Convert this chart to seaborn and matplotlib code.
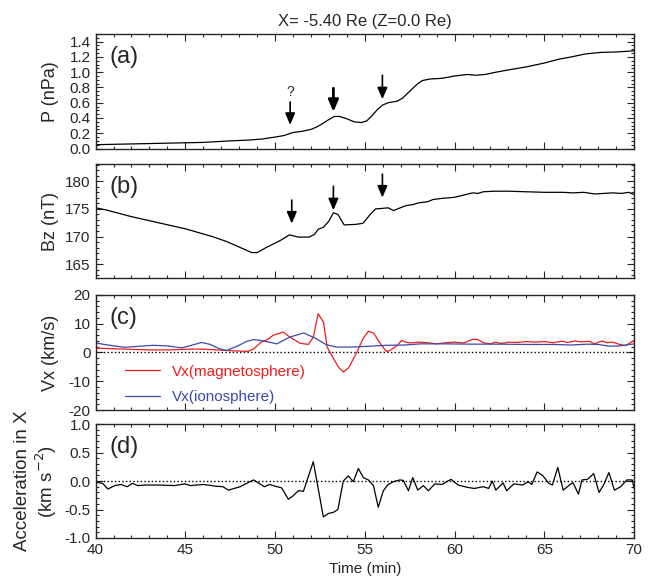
import matplotlib
matplotlib.use("Agg")
import matplotlib.pyplot as plt
from matplotlib.ticker import MultipleLocator, FormatStrFormatter
import seaborn as sns

# ---- data ----
# (a) pressure
p_time = [40.0, 42.0, 44.0, 46.0, 47.5, 48.5, 49.3, 50.0, 50.5, 51.0, 51.5, 52.0, 52.3, 52.6,
          53.0, 53.3, 53.6, 54.0, 54.4, 54.8, 55.1, 55.4, 55.7, 56.0, 56.3, 56.8, 57.1, 57.5,
          57.9, 58.2, 58.6, 59.3, 60.0, 60.7, 61.2, 61.7, 62.3, 63.0, 64.0, 65.0, 65.8, 66.5,
          67.3, 68.2, 69.0, 70.0]
p_val = [0.05, 0.06, 0.07, 0.08, 0.10, 0.11, 0.125, 0.15, 0.17, 0.21, 0.225, 0.25, 0.28, 0.32,
         0.38, 0.42, 0.42, 0.39, 0.35, 0.34, 0.36, 0.43, 0.51, 0.57, 0.60, 0.62, 0.66, 0.75,
         0.84, 0.89, 0.91, 0.92, 0.95, 0.97, 0.96, 0.97, 1.00, 1.03, 1.07, 1.12, 1.17, 1.20,
         1.24, 1.26, 1.265, 1.28]

# (b) Bz
bz_time = [40.0, 40.6, 42.0, 43.5, 45.0, 46.5, 47.3, 48.0, 48.7, 49.0, 49.5, 50.3, 50.8, 51.3,
           51.9, 52.2, 52.4, 52.7, 53.0, 53.25, 53.5, 53.85, 54.5, 54.9, 55.3, 55.6, 56.0, 56.3,
           56.6, 56.9, 57.3, 57.7, 58.0, 58.5, 58.8, 59.3, 60.0, 60.5, 61.0, 61.3, 61.6, 62.2,
           63.0, 64.0, 65.0, 66.0, 66.6, 67.2, 67.8, 68.3, 68.8, 69.3, 69.7, 70.0]
bz_val = [175.2, 174.8, 173.6, 172.5, 171.4, 170.0, 169.1, 168.1, 167.1, 167.1, 168.0, 169.3,
          170.3, 169.9, 169.9, 170.4, 171.3, 171.7, 172.8, 174.3, 174.0, 172.1, 172.2, 172.4,
          174.0, 175.0, 175.1, 175.2, 174.7, 175.1, 175.6, 175.8, 176.1, 176.3, 176.7, 176.9,
          177.1, 177.5, 177.9, 177.8, 178.1, 178.2, 178.2, 178.1, 178.0, 178.0, 177.9, 178.0,
          177.7, 177.8, 177.9, 177.8, 178.0, 177.6]

# (c) Vx in the magnetosphere
vm_time = [40.0, 41.0, 42.0, 43.0, 44.0, 45.0, 45.7, 46.5, 47.3, 48.0, 48.5, 48.8, 49.2, 49.6,
           49.9, 50.2, 50.46, 50.83, 51.4, 51.86, 52.13, 52.4, 52.7, 52.9, 53.16, 53.53, 53.8,
           54.1, 54.55, 54.9, 55.2, 55.5, 55.85, 56.2, 56.4, 56.8, 57.05, 57.3, 57.5, 58.0,
           58.5, 59.0, 59.5, 60.0, 60.5, 61.0, 61.3, 61.6, 62.0, 62.3, 62.6, 63.0, 63.5, 64.0,
           64.5, 65.0, 65.5, 66.0, 66.3, 66.7, 67.0, 67.5, 67.8, 68.2, 68.5, 68.8, 69.2, 69.5,
           69.8, 70.0]
vm_val = [1.5, 1.3, 1.1, 0.9, 0.9, 1.1, 1.2, 1.0, 0.7, 0.5, 0.4, 1.2, 3.5, 4.6,
          6.0, 6.6, 7.1, 5.3, 3.2, 2.8, 5.3, 13.5, 10.5, 1.9, -1.0, -5.1, -6.8,
          -5.3, 0.0, 4.8, 7.4, 6.7, 3.2, 0.35, 0.7, 2.4, 4.2, 3.6, 3.3, 3.6,
          3.4, 3.0, 3.4, 3.6, 3.3, 4.6, 4.5, 3.4, 3.0, 3.6, 3.1, 3.6, 3.5, 3.8,
          3.6, 3.8, 3.4, 3.9, 3.5, 4.0, 3.7, 3.9, 3.0, 4.0, 3.4, 3.6, 2.8, 2.4,
          3.4, 4.2]

# (c) Vx in the ionosphere
vi_time = [40.0, 40.8, 41.6, 42.3, 43.2, 44.0, 44.8, 45.4, 45.9, 46.4, 46.9, 47.3, 47.9, 48.4,
           48.8, 49.3, 50.1, 50.8, 51.6, 52.3, 52.85, 53.4, 54.35, 55.3, 56.2, 57.2, 58.1,
           59.5, 61.0, 62.5, 64.0, 65.5, 66.5, 67.4, 68.0, 68.6, 69.2, 70.0]
vi_val = [3.3, 2.5, 1.8, 2.1, 2.5, 2.3, 1.6, 2.6, 3.5, 2.8, 1.3, 0.7, 2.2, 3.8,
          4.5, 4.1, 3.0, 5.3, 6.8, 4.8, 2.7, 1.9, 1.9, 2.2, 2.5, 2.6, 3.0,
          3.0, 2.9, 2.9, 2.8, 2.8, 2.6, 2.9, 2.8, 2.2, 2.3, 3.0]

# (d) acceleration in X
ax_time = [40.0, 40.39, 40.69, 41.07, 41.42, 41.76, 42.06, 42.34, 42.8, 43.5, 44.4, 44.97,
           45.3, 46.0, 46.7, 47.1, 47.4, 48.05, 48.8, 49.26, 49.4, 49.7, 50.0, 50.37, 50.74,
           51.0, 51.3, 51.58, 52.13, 52.69, 52.97, 53.25, 53.5, 53.8, 54.08, 54.36, 54.64,
           54.92, 55.2, 55.48, 55.75, 56.03, 56.3, 56.6, 56.96, 57.15, 57.43, 57.67, 57.95,
           58.26, 58.54, 58.9, 59.3, 59.8, 60.2, 60.7, 61.1, 61.6, 61.9, 62.1, 62.3, 62.7,
           62.9, 63.3, 63.8, 64.1, 64.3, 64.6, 64.9, 65.25, 65.45, 65.75, 66.05, 66.4, 66.6,
           66.9, 67.1, 67.4, 67.75, 68.05, 68.3, 68.6, 68.9, 69.25, 69.6, 69.9, 70.0]
ax_val = [-0.02, -0.04, -0.14, -0.08, -0.06, -0.10, -0.04, -0.08, -0.07, -0.07, -0.08, -0.05,
          -0.08, -0.06, -0.09, -0.10, -0.16, -0.10, 0.02, -0.07, -0.10, -0.06, -0.09, -0.12,
          -0.32, -0.26, -0.17, -0.18, 0.34, -0.63, -0.57, -0.55, -0.50, 0.00, 0.09, -0.01,
          0.22, 0.06, 0.02, -0.08, -0.46, -0.17, -0.06, -0.01, 0.02, 0.01, -0.17, 0.06, -0.16,
          -0.08, -0.17, -0.05, -0.06, 0.03, -0.07, -0.11, -0.13, -0.10, -0.13, 0.00, -0.16,
          -0.03, -0.17, -0.05, -0.07, -0.01, -0.06, 0.16, 0.10, -0.04, -0.07, 0.24, -0.16,
          -0.07, -0.03, -0.23, 0.02, 0.03, 0.13, -0.20, -0.07, 0.15, -0.16, -0.10, 0.02,
          0.02, -0.13]

# event arrows: time, tail, tip
p_arrow_t = [50.84, 53.25, 55.98]
p_arrow_tail = [0.61, 0.79, 0.96]
p_arrow_tip = [0.31, 0.48, 0.645]
bz_arrow_t = [50.93, 53.25, 55.98]
bz_arrow_tail = [176.6, 179.1, 181.3]
bz_arrow_tip = [172.35, 174.75, 177.05]

red = "#ee1c1c"
blue = "#3a4aa8"

sns.set_style("ticks")
plt.rcParams["font.family"] = ["Liberation Sans", "DejaVu Sans"]
plt.rcParams["axes.unicode_minus"] = False

fig = plt.figure(figsize=(6.5, 5.87), dpi=100)
left, width = 0.147, 0.8285
ax_a = fig.add_axes([left, 0.747, width, 0.195])
ax_b = fig.add_axes([left, 0.5264, width, 0.194])
ax_c = fig.add_axes([left, 0.3015, width, 0.196])
ax_d = fig.add_axes([left, 0.0835, width, 0.194])
axes = [ax_a, ax_b, ax_c, ax_d]

lw = 0.9
sns.lineplot(x=p_time, y=p_val, ax=ax_a, color="k", lw=lw, sort=False, estimator=None)
sns.lineplot(x=bz_time, y=bz_val, ax=ax_b, color="k", lw=lw, sort=False, estimator=None)
sns.lineplot(x=vm_time, y=vm_val, ax=ax_c, color=red, lw=lw, sort=False, estimator=None,
             label="Vx(magnetosphere)")
sns.lineplot(x=vi_time, y=vi_val, ax=ax_c, color=blue, lw=lw, sort=False, estimator=None,
             label="Vx(ionosphere)")
sns.lineplot(x=ax_time, y=ax_val, ax=ax_d, color="k", lw=lw, sort=False, estimator=None)

ax_c.axhline(0, color="k", ls=":", lw=1)
ax_d.axhline(0, color="k", ls=":", lw=1)

# arrows
for i, (t, y0, y1) in enumerate(zip(p_arrow_t, p_arrow_tail, p_arrow_tip)):
    thick = i == 1
    ax_a.annotate("", xy=(t, y1), xytext=(t, y0),
                  arrowprops=dict(arrowstyle="-|>,head_length=0.7,head_width=0.3",
                                  color="k", lw=2.0 if thick else 1.2, shrinkA=0, shrinkB=0))
ax_a.text(p_arrow_t[0], p_arrow_tail[0] + 0.04, "?", ha="center", va="bottom", fontsize=10)
for t, y0, y1 in zip(bz_arrow_t, bz_arrow_tail, bz_arrow_tip):
    ax_b.annotate("", xy=(t, y1), xytext=(t, y0),
                  arrowprops=dict(arrowstyle="-|>,head_length=0.7,head_width=0.3",
                                  color="k", lw=1.2, shrinkA=0, shrinkB=0))

# axes styling
ylims = [(0, 1.5), (162.5, 183.1), (-20, 20), (-1, 1)]
majors = [0.2, 5, 10, 0.5]
minors = [0.05, 1, 2, 0.1]
fmts = ["%.1f", "%d", "%d", "%.1f"]
ylabels = ["P (nPa)", "Bz (nT)", "Vx (km/s)", "Acceleration in X\n(km s$^{-2}$)"]
label_sizes = [13, 13, 13, 13.5]
tags = ["(a)", "(b)", "(c)", "(d)"]
for ax, yl, mj, mn, fm, lab, ls_, tag in zip(axes, ylims, majors, minors, fmts, ylabels,
                                            label_sizes, tags):
    ax.set_xlim(40, 70)
    ax.set_ylim(*yl)
    ax.xaxis.set_major_locator(MultipleLocator(5))
    ax.xaxis.set_minor_locator(MultipleLocator(1))
    ax.yaxis.set_major_locator(MultipleLocator(mj))
    ax.yaxis.set_minor_locator(MultipleLocator(mn))
    ax.yaxis.set_major_formatter(FormatStrFormatter(fm))
    ax.tick_params(which="both", direction="in", top=True, right=True, labelsize=11,
                   width=0.8)
    ax.tick_params(which="major", length=5)
    ax.tick_params(which="minor", length=2.5)
    for s in ax.spines.values():
        s.set_linewidth(1.0)
    ax.set_ylabel(lab, fontsize=ls_, linespacing=1.1)
    ax.yaxis.set_label_coords(-0.068, 0.5)
    ax.text(0.025, 0.80, tag, transform=ax.transAxes, fontsize=17, va="center", ha="left")
    if ax is not ax_d:
        ax.tick_params(labelbottom=False)
        ax.set_xlabel("")

ax_d.set_xlabel("Time (min)", fontsize=11)
ax_a.set_title("X= -5.40 Re (Z=0.0 Re)", fontsize=12, pad=6)

ax_c.legend(loc="lower left", bbox_to_anchor=(0.043, 0.0), frameon=False, fontsize=11,
            handlelength=2.3, labelspacing=0.74, labelcolor="linecolor", handletextpad=0.8,
            borderaxespad=0, borderpad=0.4)

fig.savefig("out.png", dpi=100)
